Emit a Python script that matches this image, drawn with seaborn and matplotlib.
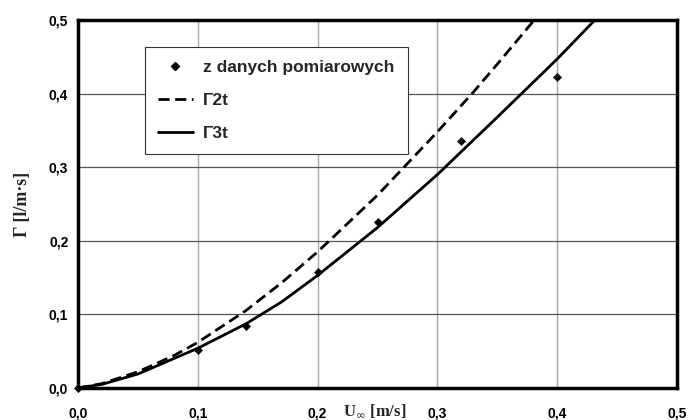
import matplotlib
matplotlib.use("Agg")
import matplotlib.pyplot as plt
import seaborn as sns
from matplotlib.ticker import FuncFormatter, MultipleLocator
from matplotlib.lines import Line2D

# measured data
meas_u = [0.0, 0.10, 0.14, 0.20, 0.25, 0.32, 0.40]
meas_g = [0.0, 0.052, 0.084, 0.158, 0.226, 0.336, 0.423]

# Gamma 2t (dashed)
g2_u = [0.0, 0.02, 0.05, 0.08, 0.10, 0.14, 0.17, 0.20, 0.25, 0.30, 0.33, 0.35, 0.385]
g2_g = [0.0, 0.006, 0.022, 0.044, 0.062, 0.105, 0.143, 0.185, 0.262, 0.348, 0.402, 0.440, 0.508]

# Gamma 3t (solid)
g3_u = [0.0, 0.02, 0.05, 0.08, 0.10, 0.14, 0.17, 0.20, 0.25, 0.30, 0.35, 0.40, 0.435]
g3_g = [0.0, 0.005, 0.019, 0.040, 0.054, 0.087, 0.117, 0.153, 0.218, 0.290, 0.368, 0.447, 0.506]

sns.set_style("white")
plt.rcParams['font.family'] = ['Liberation Sans', 'DejaVu Sans']

fig = plt.figure(figsize=(6.89, 4.2), dpi=100)
ax = fig.add_axes([78/689, 32/420, 599/689, 368/420])

ax.set_xlim(0, 0.5)
ax.set_ylim(0, 0.5)
ax.xaxis.set_major_locator(MultipleLocator(0.1))
ax.yaxis.set_major_locator(MultipleLocator(0.1))
fmt = FuncFormatter(lambda v, p: f"{v:.1f}".replace(".", ","))
ax.xaxis.set_major_formatter(fmt)
ax.yaxis.set_major_formatter(fmt)

ax.grid(axis='x', color='#a8a8a8', linewidth=1.0)
ax.grid(axis='y', color='#555555', linewidth=0.9)
ax.set_axisbelow(True)

sns.lineplot(x=g2_u, y=g2_g, ax=ax, color='black', linewidth=2.0,
             linestyle=(0, (4, 2)))
sns.lineplot(x=g3_u, y=g3_g, ax=ax, color='black', linewidth=2.0)
sns.scatterplot(x=meas_u, y=meas_g, ax=ax, color='black', marker='D', s=18,
                edgecolor='black', zorder=5, clip_on=False)

for s in ax.spines.values():
    s.set_linewidth(2.5)
    s.set_color('black')

ax.tick_params(axis='both', which='major', length=3, width=1, direction='out',
               labelsize=10, pad=4, colors='black')
for lbl in ax.get_xticklabels() + ax.get_yticklabels():
    lbl.set_fontweight('bold')
ax.tick_params(axis='x', pad=10)

ax.set_xlabel("")
ax.set_ylabel("Γ [l/m·s]", fontfamily='Liberation Serif', fontweight='bold', fontsize=13)
ax.yaxis.set_label_coords(-0.078, 0.5)
fig.text(375/689, 1/420, "U$_\\infty$ [m/s]", fontfamily='Liberation Serif', fontweight='bold',
         fontsize=12, ha='center', va='bottom')

handles = [
    Line2D([], [], color='black', marker='D', markersize=4, linestyle='none'),
    Line2D([], [], color='black', linewidth=2.0, linestyle=(0, (4, 2))),
    Line2D([], [], color='black', linewidth=2.0),
]
leg = ax.legend(handles, ["z danych pomiarowych", "Γ2t", "Γ3t"],
                loc='upper left', bbox_to_anchor=((145-78)/599, (388-47)/368),
                borderaxespad=0,
                frameon=True, fancybox=False, framealpha=1, edgecolor='#333333',
                prop={'family': 'Liberation Sans', 'weight': 'bold', 'size': 12.5},
                handlelength=2.0, borderpad=0.75, labelspacing=1.02, handletextpad=0.6)
leg.get_frame().set_linewidth(0.8)

fig.savefig("out.png", dpi=100)
